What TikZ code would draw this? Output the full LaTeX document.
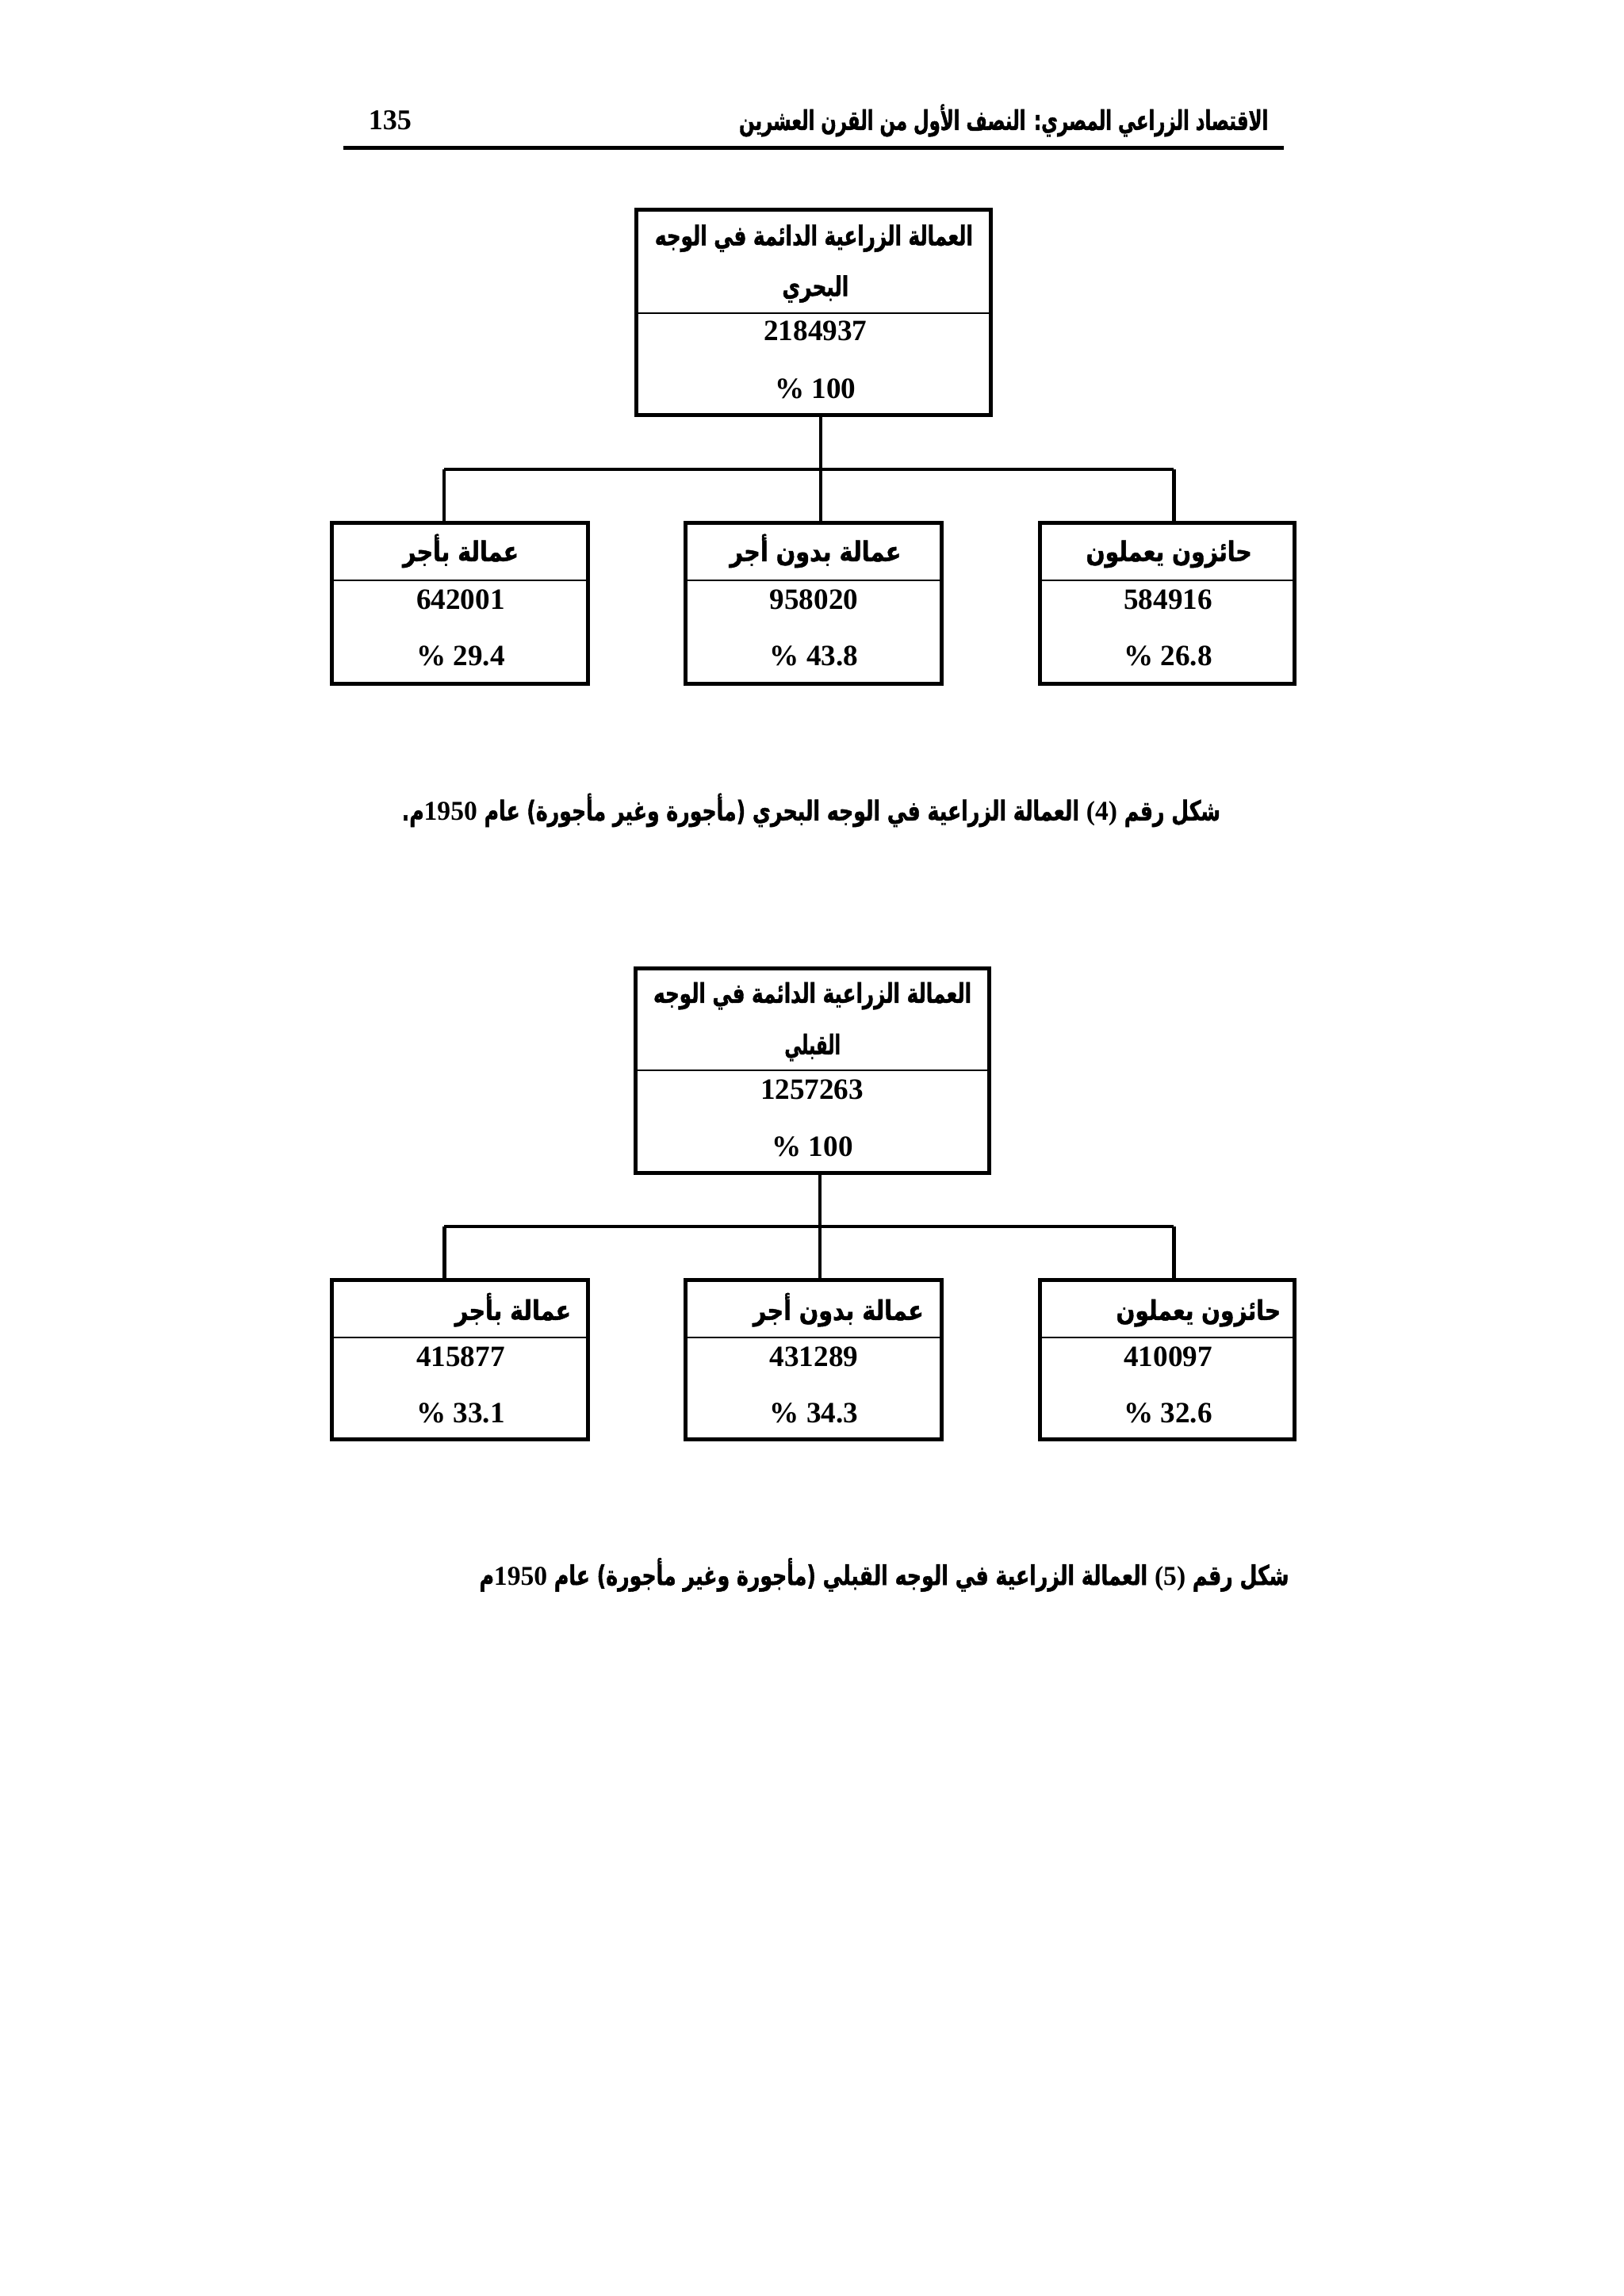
\documentclass[tikz,border=0pt]{standalone}
\usepackage{fontspec}
\usepackage{graphicx}
\setmainfont{Liberation Serif}
\newfontfamily\arabicfont[Script=Arabic, FakeStretch=0.75, BoldFeatures={FakeBold=1.2}]{DejaVu Sans}
\newfontfamily\numfont{Liberation Serif}
\TeXXeTstate=1
\def\U{0.5385pt}
\newcommand\arfit[2]{\resizebox{#1}{\height}{\arabicfont\bfseries\fontsize{10}{11}\selectfont #2}}
\newcommand\capnum[1]{{\numfont\bfseries\fontsize{10}{12}\selectfont #1}}
\tikzset{
  box/.style={draw, line width=1.45pt, inner sep=0pt, outer sep=0pt, anchor=north west},
  divline/.style={line width=0.5pt},
  conn/.style={line width=1.2pt},
  num/.style={font=\numfont\bfseries\fontsize{10.8}{12}\selectfont, inner sep=0pt, anchor=base},
  ar/.style={inner sep=0pt, anchor=base},
  arR/.style={inner sep=0pt, anchor=base east},
}
\begin{document}
\begin{tikzpicture}[x=0.5385pt,y=-0.5385pt]
\fill[white] (0,0) rectangle (1105,1563);
\useasboundingbox (0,0) rectangle (1105,1563);

% header
\node[num, font=\numfont\bfseries\fontsize{10.5}{12}\selectfont] (pg) at (265.5,88.5) {135};
\node[arR] (hdr) at (863.5,88.5) {\arfit{193.9pt}{\beginR الاقتصاد الزراعي المصري: النصف الأول من القرن العشرين\endR}};
\draw[line width=1.6pt] (233.8,100.7) -- (873.9,100.7);

% ---------- diagram 1 ----------
\node[box, minimum width={241.6*\U}, minimum height={139.4*\U}] (t1) at (433,143) {};
\draw[divline] (t1.west |- 0,213) -- (t1.east |- 0,213);
\node[ar] (t1l1) at (554,167) {\arfit{116.6pt}{\beginR العمالة الزراعية الدائمة في الوجه\endR}};
\node[ar] (t1l2) at (555,201.5) {\arfit{24.4pt}{\beginR البحري\endR}};
\node[num] (t1n) at (555,232) {2184937};
\node[num] (t1p) at (555,271) {\% 100};

\node[box, minimum width={174.8*\U}, minimum height={109.5*\U}] (c1a) at (225.6,356) {};
\node[box, minimum width={174.2*\U}, minimum height={109.5*\U}] (c1b) at (466.8,356) {};
\node[box, minimum width={173*\U}, minimum height={109.5*\U}] (c1c) at (708,356) {};
\foreach \b in {c1a,c1b,c1c}{\draw[divline] (\b.west |- 0,395) -- (\b.east |- 0,395);}

\coordinate (j1) at (558.5,319.4);
\coordinate (j1l) at (302,319.4);
\coordinate (j1r) at (799,319.4);
\draw[conn] (t1.south -| j1) -- (j1);
\draw[conn] (j1l) -- (j1r);
\draw[conn] (j1l) -- (c1a.north -| j1l);
\draw[conn] (j1) -- (c1b.north -| j1);
\draw[conn] (j1r) -- (c1c.north -| j1r);

\node[ar] (c1at) at (313.6,382) {\arfit{42.5pt}{\beginR عمالة بأجر\endR}};
\node[ar] (c1bt) at (555,382) {\arfit{62.8pt}{\beginR عمالة بدون أجر\endR}};
\node[ar] (c1ct) at (795.6,382) {\arfit{60.8pt}{\beginR حائزون يعملون\endR}};
\node[num] (c1an) at (313.5,414.6) {642001};
\node[num] (c1bn) at (554,414.6) {958020};
\node[num] (c1cn) at (795,414.6) {584916};
\node[num] (c1ap) at (313.5,453) {\% 29.4};
\node[num] (c1bp) at (554,453) {\% 43.8};
\node[num] (c1cp) at (795,453) {\% 26.8};

\node[arR] (cap1) at (831,558.5) {\arfit{300pt}{\beginR شكل رقم \capnum{(4)} العمالة الزراعية في الوجه البحري (مأجورة وغير مأجورة) عام \capnum{1950}م.\endR}};

% ---------- diagram 2 ----------
\node[box, minimum width={241*\U}, minimum height={139.5*\U}] (t2) at (432.5,659) {};
\draw[divline] (t2.west |- 0,728.6) -- (t2.east |- 0,728.6);
\node[ar] (t2l1) at (553,682.7) {\arfit{116.6pt}{\beginR العمالة الزراعية الدائمة في الوجه\endR}};
\node[ar] (t2l2) at (553,717.8) {\arfit{20.5pt}{\beginR القبلي\endR}};
\node[num] (t2n) at (552.7,748.5) {1257263};
\node[num] (t2p) at (553,787) {\% 100};

\node[box, minimum width={174.8*\U}, minimum height={108*\U}] (c2a) at (225.6,871.6) {};
\node[box, minimum width={174.2*\U}, minimum height={108*\U}] (c2b) at (466.8,871.6) {};
\node[box, minimum width={173*\U}, minimum height={108*\U}] (c2c) at (708,871.6) {};
\foreach \b in {c2a,c2b,c2c}{\draw[divline] (\b.west |- 0,910.5) -- (\b.east |- 0,910.5);}

\coordinate (j2) at (558,835);
\coordinate (j2l) at (302.5,835);
\coordinate (j2r) at (799,835);
\draw[conn] (t2.south -| j2) -- (j2);
\draw[conn] (j2l) -- (j2r);
\draw[conn] (j2l) -- (c2a.north -| j2l);
\draw[conn] (j2) -- (c2b.north -| j2);
\draw[conn] (j2r) -- (c2c.north -| j2r);

\node[arR] (c2at) at (389,898.6) {\arfit{42.5pt}{\beginR عمالة بأجر\endR}};
\node[arR] (c2bt) at (629,898.6) {\arfit{62.5pt}{\beginR عمالة بدون أجر\endR}};
\node[arR] (c2ct) at (872,898.6) {\arfit{60.3pt}{\beginR حائزون يعملون\endR}};
\node[num] (c2an) at (313.5,930) {415877};
\node[num] (c2bn) at (554,930) {431289};
\node[num] (c2cn) at (795,930) {410097};
\node[num] (c2ap) at (313.5,968.7) {\% 33.1};
\node[num] (c2bp) at (554,968.7) {\% 34.3};
\node[num] (c2cp) at (795,968.7) {\% 32.6};

\node[arR] (cap2) at (877.6,1079) {\arfit{296.7pt}{\beginR شكل رقم \capnum{(5)} العمالة الزراعية في الوجه القبلي (مأجورة وغير مأجورة) عام \capnum{1950}م\endR}};
\end{tikzpicture}
\end{document}
